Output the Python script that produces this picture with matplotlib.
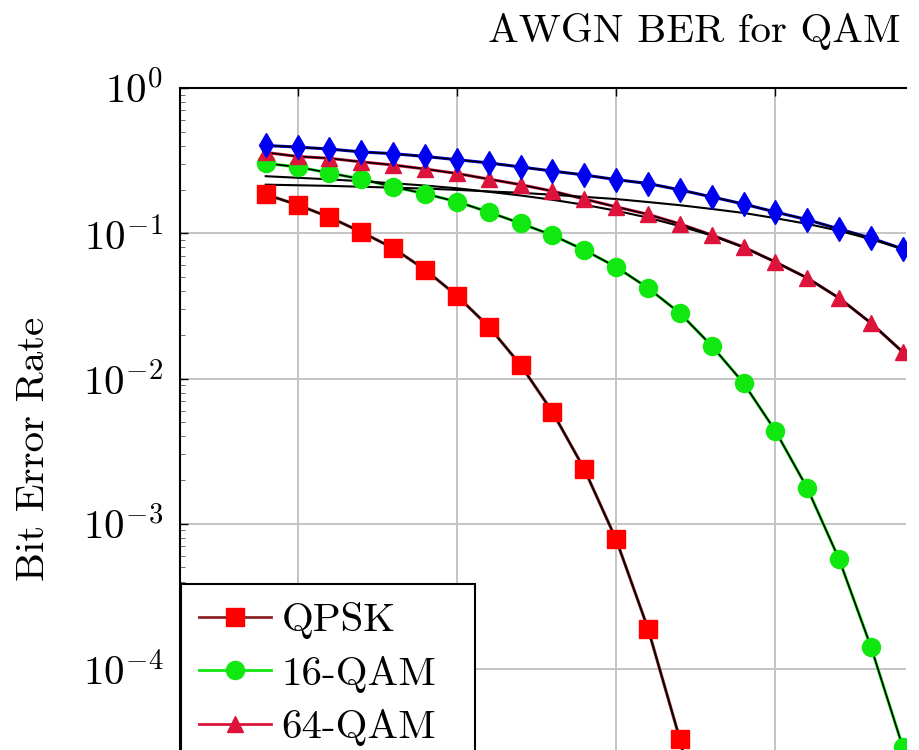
import matplotlib
matplotlib.use('Agg')
import numpy as np
import matplotlib.pyplot as plt
from matplotlib.lines import Line2D
from matplotlib.ticker import LogLocator, FuncFormatter, NullFormatter

plt.rcParams['mathtext.fontset'] = 'cm'
plt.rcParams['font.family'] = ['cmr10', 'DejaVu Serif']
plt.rcParams['axes.formatter.use_mathtext'] = True

W, H = 919, 750
FS = 29.5

# SNR (dB) grid of the simulated points
snr_qpsk = [-1, 0, 1, 2, 3, 4, 5, 6, 7, 8, 9, 10, 11, 12, 13]
snr_qam = [-1, 0, 1, 2, 3, 4, 5, 6, 7, 8, 9, 10, 11, 12, 13, 14, 15, 16, 17, 18, 19]

ber_qpsk = [0.185, 0.157, 0.129, 0.102, 0.079, 0.0562, 0.0372, 0.0228, 0.0124,
            0.0059, 0.00238, 7.8e-4, 1.9e-4, 3.3e-5, 3.9e-6]
ber_16qam = [0.303, 0.286, 0.260, 0.236, 0.209, 0.187, 0.165, 0.140, 0.117, 0.097,
             0.0767, 0.0586, 0.042, 0.0282, 0.0168, 0.0093, 0.00436, 0.00176,
             5.7e-4, 1.42e-4, 2.9e-5]
ber_64qam = [0.360, 0.338, 0.328, 0.310, 0.295, 0.277, 0.258, 0.236, 0.216, 0.195,
             0.172, 0.152, 0.135, 0.116, 0.0973, 0.0804, 0.0634, 0.0492, 0.0358,
             0.0241, 0.0152]
ber_256qam = [0.402, 0.392, 0.380, 0.363, 0.353, 0.338, 0.321, 0.305, 0.286, 0.268,
              0.252, 0.234, 0.220, 0.199, 0.178, 0.159, 0.140, 0.124, 0.107,
              0.0927, 0.078]

# approximate (nearest neighbour) theory curves, black
approx_64qam = [0.247, 0.241, 0.235, 0.228, 0.221, 0.213, 0.204, 0.193, 0.182, 0.170,
                0.157, 0.143, 0.128, 0.112, 0.0965, 0.0800, 0.0634, 0.0492, 0.0358,
                0.0241, 0.0152]
approx_256qam = [0.216, 0.214, 0.212, 0.209, 0.206, 0.203, 0.199, 0.194, 0.190, 0.184,
                 0.178, 0.172, 0.164, 0.156, 0.147, 0.138, 0.127, 0.116, 0.104,
                 0.091, 0.078]

labels = ['QPSK', '16-QAM', '64-QAM', '256-QAM']

series = [
    (snr_qpsk, ber_qpsk, '#ff0000', '#8c2424', 's', 13),
    (snr_qam, ber_16qam, '#10e810', '#10e810', 'o', 13),
    (snr_qam, ber_64qam, '#dc143c', '#dc143c', '^', 11),
    (snr_qam, ber_256qam, '#0000f0', '#0000f0', 'd', 12),
]

fig = plt.figure(figsize=(W / 100, H / 100), dpi=100)
ax_bottom_px = 88 + 5 * 145.25
ax = fig.add_axes([180 / W, (H - ax_bottom_px) / H, (906 - 180) / W, (ax_bottom_px - 88) / H])

ax.set_yscale('log')
ax.set_axisbelow(True)

handles = []
for (x, y, c, lc, m, ms), lab in zip(series, labels):
    ax.plot(x, y, color=lc, lw=2.2, zorder=2)
    ax.plot(x, y, color='black', lw=1.2, zorder=2.5)
    ax.plot(x, y, ls='none', marker=m, ms=ms, color=c, mec=c, zorder=3)
    handles.append(Line2D([], [], color=lc, lw=2, marker=m, ms=ms, mfc=c, mec=c))

ax.plot(snr_qam, approx_64qam, color='black', lw=1.5, zorder=2.5)
ax.plot(snr_qam, approx_256qam, color='black', lw=1.5, zorder=2.5)

ax.yaxis.set_major_locator(LogLocator(base=10, numticks=10))
ax.yaxis.set_major_formatter(FuncFormatter(lambda v, p: r'$10^{%d}$' % round(np.log10(v))))
ax.yaxis.set_minor_locator(LogLocator(base=10, subs=np.arange(2, 10), numticks=20))
ax.yaxis.set_minor_formatter(NullFormatter())
ax.set_xticks([0, 5, 10, 15])

ax.set_ylim(1e-5, 1)
ax.set_xlim(-3.69, 19.1)

ax.grid(True, which='major', color='#c4c4c4', lw=1.4)
ax.tick_params(axis='y', which='major', direction='in', length=6, width=1,
               labelsize=FS, pad=12, right=False)
ax.tick_params(axis='y', which='minor', direction='in', length=3.5, width=0.6,
               color='#555555', right=False)
ax.tick_params(axis='x', direction='in', length=6, width=1, top=True,
               bottom=False, labelbottom=False)

for s in ['right', 'bottom']:
    ax.spines[s].set_visible(False)
for s in ['left', 'top']:
    ax.spines[s].set_linewidth(1.5)

leg = ax.legend(handles, labels, loc='upper left',
                bbox_to_anchor=(181 / W, 1 - 584 / H), bbox_transform=fig.transFigure,
                fontsize=FS, frameon=True, fancybox=False, framealpha=1,
                edgecolor='black', borderaxespad=0, borderpad=0.45,
                handlelength=1.75, handletextpad=0.25, labelspacing=0.4)
leg.get_frame().set_linewidth(1.5)

fig.text(488 / W, 1 - 42 / H, 'AWGN BER for QAM', ha='left', va='baseline', fontsize=FS)
fig.text(34 / W, 1 - 449 / H, 'Bit Error Rate', rotation=90, ha='center',
         va='center', fontsize=FS)

fig.savefig('out.png', dpi=100)
